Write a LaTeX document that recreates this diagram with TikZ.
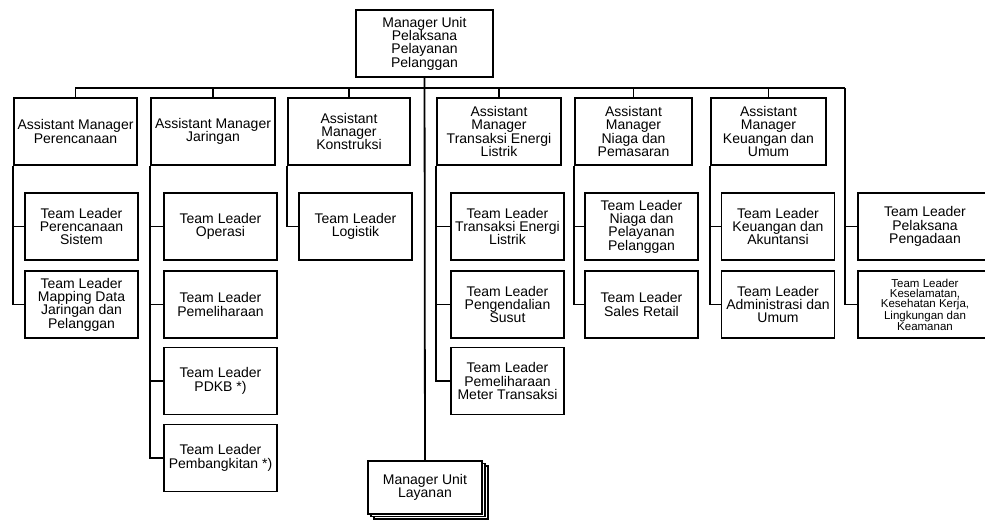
\documentclass[tikz,border=0pt]{standalone}
\usepackage{fontspec}
\setmainfont{Liberation Sans}
\usetikzlibrary{shadows}

\begin{document}
\begin{tikzpicture}[x=1pt,y=-1pt,
  box/.style={draw,line width=1.8pt,inner sep=0pt,align=center,font=\fontsize{14}{13.3}\selectfont},
  am/.style={box,minimum height=67pt},
  tl/.style={box,minimum width=113pt,minimum height=67pt},
  link/.style={draw,line width=1.8pt}]
\useasboundingbox (0,0) rectangle (985,522);
\node(mupp)[box,minimum width=137pt,minimum height=67pt] at (424.5,43.5){Manager Unit\\Pelaksana\\Pelayanan\\Pelanggan};
\node(am1)[am,minimum width=123pt] at (75.5,131.5){Assistant Manager\\Perencanaan};
\node(am2)[am,minimum width=124pt] at (213,131.5){Assistant Manager\\Jaringan};
\node(am3)[am,minimum width=122pt] at (349,131.5){Assistant\\Manager\\Konstruksi};
\node(am4)[am,minimum width=124pt] at (499,131.5){Assistant\\Manager\\Transaksi Energi\\Listrik};
\node(am5)[am,minimum width=117pt] at (633.5,131.5){Assistant\\Manager\\Niaga dan\\Pemasaran};
\node(am6)[am,minimum width=115pt] at (768.5,131.5){Assistant\\Manager\\Keuangan dan\\Umum};
\node(tl1a)[tl] at (81.5,226.5){Team Leader\\Perencanaan\\Sistem};
\node(tl1b)[tl] at (81.5,304.5){Team Leader\\Mapping Data\\Jaringan dan\\Pelanggan};
\node(tl2a)[tl] at (220.5,226.5){Team Leader\\Operasi};
\node(tl2b)[tl] at (220.5,304.5){Team Leader\\Pemeliharaan};
\node(tl2c)[tl] at (220.5,381){Team Leader\\PDKB *)};
\node(tl2d)[tl] at (220.5,458){Team Leader\\Pembangkitan *)};
\node(tl3a)[tl] at (355.5,226.5){Team Leader\\Logistik};
\node(tl4a)[tl] at (507.5,226.5){Team Leader\\Transaksi Energi\\Listrik};
\node(tl4b)[tl] at (507.5,304.5){Team Leader\\Pengendalian\\Susut};
\node(tl4c)[tl] at (507.5,381){Team Leader\\Pemeliharaan\\Meter Transaksi};
\node(tl5a)[tl] at (641.5,226.5){Team Leader\\Niaga dan\\Pelayanan\\Pelanggan};
\node(tl5b)[tl] at (641.5,304.5){Team Leader\\Sales Retail};
\node(tl6a)[tl] at (778,226.5){Team Leader\\Keuangan dan\\Akuntansi};
\node(tl6b)[tl] at (778,304.5){Team Leader\\Administrasi dan\\Umum};
\node(tl7a)[tl,minimum width=134pt] at (925,226.5){Team Leader\\Pelaksana\\Pengadaan};
\node(tl7b)[tl,minimum width=134pt,font=\fontsize{11.5}{10.4}\selectfont] at (925,304.5){Team Leader\\Keselamatan,\\Kesehatan Kerja,\\Lingkungan dan\\Keamanan};
\node(mul)[box,minimum width=114pt,minimum height=53pt,fill=white,
  copy shadow={shadow xshift=6pt,shadow yshift=-5pt,draw,fill=white,line width=1.2pt},
  copy shadow={shadow xshift=3pt,shadow yshift=-2.5pt,draw,fill=white,line width=1.2pt}] at (425,487.5){Manager Unit\\Layanan};
% garis utama
\coordinate(busl) at (75,88);
\coordinate(busr) at (845,88);
\path[link] (busl) -- (busr);
\path[link] (mupp) -- (mul);
\path[link] (am1.north) -- (am1.north |- busl);
\path[link] (am2.north) -- (am2.north |- busl);
\path[link] (am3.north) -- (am3.north |- busl);
\path[link] (am4.north) -- (am4.north |- busl);
\path[link] (am5.north) -- (am5.north |- busl);
\path[link] (am6.north) -- (am6.north |- busl);
\path[link] (busr) |- (tl7a.west);
\path[link] (busr) |- (tl7b.west);
% team leader
\path[link] (am1.south west) |- (tl1a.west);
\path[link] (am1.south west) |- (tl1b.west);
\path[link] (am2.south west) |- (tl2a.west);
\path[link] (am2.south west) |- (tl2b.west);
\path[link] (am2.south west) |- (tl2c.west);
\path[link] (am2.south west) |- (tl2d.west);
\path[link] (am3.south west) |- (tl3a.west);
\path[link] (am4.south west) |- (tl4a.west);
\path[link] (am4.south west) |- (tl4b.west);
\path[link] (am4.south west) |- (tl4c.west);
\path[link] (am5.south west) |- (tl5a.west);
\path[link] (am5.south west) |- (tl5b.west);
\path[link] (am6.south west) |- (tl6a.west);
\path[link] (am6.south west) |- (tl6b.west);
\end{tikzpicture}
\end{document}
